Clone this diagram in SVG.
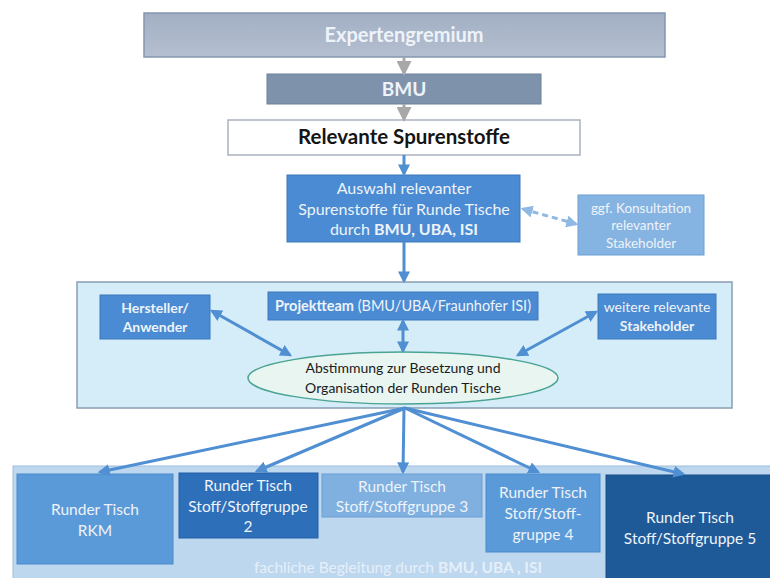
<svg xmlns="http://www.w3.org/2000/svg" width="770" height="578" viewBox="0 0 770 578">
  <defs>
    <linearGradient id="gradTop" x1="0" y1="0" x2="0" y2="1">
      <stop offset="0" stop-color="#a2afc3"/>
      <stop offset="1" stop-color="#b4bfd0"/>
    </linearGradient>
    <marker id="arrGray" viewBox="0 0 10 10" refX="8" refY="5" markerWidth="5" markerHeight="5" orient="auto-start-reverse">
      <path d="M0,0 L10,5 L0,10 z" fill="#a8a8a8"/>
    </marker>
    <marker id="arrBlue" viewBox="0 0 10 10" refX="8" refY="5" markerWidth="4" markerHeight="4" orient="auto-start-reverse">
      <path d="M0,0 L10,5 L0,10 z" fill="#4f8fd2"/>
    </marker>
    <marker id="arrLight" viewBox="0 0 10 10" refX="8" refY="5" markerWidth="4" markerHeight="4" orient="auto-start-reverse">
      <path d="M0,0 L10,5 L0,10 z" fill="#8fb8e2"/>
    </marker>
  </defs>
  <style>
    text { font-family: Lato, "Open Sans", "Liberation Sans", sans-serif; text-anchor: middle; }
    .wt { fill: #eef3f9; }
    .b { font-weight: bold; }
    .blue { fill: #4a8bd3; stroke: #3d78bb; stroke-width: 1; }
    .con { stroke: #4f8fd2; stroke-width: 3; fill: none; }
    .tt { font-size: 15.5px; }
  </style>

  <!-- top chain -->
  <g id="expertengremium">
    <rect x="144" y="13" width="521" height="44" fill="url(#gradTop)" stroke="#8496b0" stroke-width="1.5"/>
    <text x="404" y="42" class="wt b" font-size="20">Expertengremium</text>
  </g>
  <g id="bmu">
    <rect x="267" y="74" width="274" height="30" fill="#7f92ac" stroke="#6e819c" stroke-width="1"/>
    <text x="404" y="96" class="wt b" font-size="19">BMU</text>
  </g>
  <g id="relevante-spurenstoffe">
    <rect x="228" y="120" width="352" height="35" fill="#ffffff" stroke="#a9b2c0" stroke-width="1.5"/>
    <text x="404" y="144" class="b" font-size="20.5" fill="#151515">Relevante Spurenstoffe</text>
  </g>
  <g id="auswahl">
    <rect x="287" y="175" width="233" height="67" class="blue"/>
    <text x="404" y="194" class="wt" font-size="16">Auswahl relevanter</text>
    <text x="404" y="215" class="wt" font-size="16">Spurenstoffe für Runde Tische</text>
    <text x="404" y="235" class="wt" font-size="16">durch <tspan class="b">BMU, UBA, ISI</tspan></text>
  </g>
  <g id="konsultation">
    <rect x="578" y="195" width="126" height="60" fill="#86b4e2" stroke="#6d9fd3" stroke-width="1"/>
    <text x="641" y="213" class="wt" font-size="13.5">ggf. Konsultation</text>
    <text x="641" y="230" class="wt" font-size="13.5">relevanter</text>
    <text x="641" y="248" class="wt" font-size="13.5">Stakeholder</text>
  </g>

  <!-- coordination panel -->
  <g id="abstimmung-panel">
    <rect x="77" y="282" width="655" height="126" fill="#d5edf8" stroke="#8a9db3" stroke-width="1.5"/>
  </g>
  <g id="hersteller">
    <rect x="100" y="295" width="110" height="44" class="blue"/>
    <text x="155" y="313" class="wt b" font-size="14">Hersteller/</text>
    <text x="155" y="332" class="wt b" font-size="14">Anwender</text>
  </g>
  <g id="projektteam">
    <rect x="268" y="292" width="270" height="28" class="blue"/>
    <text x="403" y="311" class="wt" font-size="14.5"><tspan class="b">Projektteam</tspan> (BMU/UBA/Fraunhofer ISI)</text>
  </g>
  <g id="stakeholder">
    <rect x="598" y="294" width="118" height="45" class="blue"/>
    <text x="657" y="312" class="wt" font-size="14">weitere relevante</text>
    <text x="657" y="331" class="wt b" font-size="14">Stakeholder</text>
  </g>
  <g id="abstimmung">
    <ellipse cx="403" cy="378" rx="155" ry="26" fill="#e9f5f1" stroke="#4aa494" stroke-width="1.5"/>
    <text x="403" y="373" font-size="14" fill="#1b1b1b">Abstimmung zur Besetzung und</text>
    <text x="403" y="393" font-size="14" fill="#1b1b1b">Organisation der Runden Tische</text>
  </g>

  <!-- round tables -->
  <g id="begleitung">
    <rect x="13" y="466" width="770" height="120" fill="#bdd7ef" stroke="#9fbde0" stroke-width="1"/>
    <text x="398" y="573" font-size="15.5" fill="#e6eff9">fachliche Begleitung durch <tspan class="b">BMU, UBA , ISI</tspan></text>
  </g>
  <g id="tisch-rkm">
    <rect x="17" y="474" width="156" height="90" fill="#5b9ad8" stroke="#4c8acb" stroke-width="1"/>
    <text x="95" y="515" class="wt tt">Runder Tisch</text>
    <text x="95" y="536" class="wt tt">RKM</text>
  </g>
  <g id="tisch-2">
    <rect x="179" y="473" width="139" height="65" fill="#2e6fba" stroke="#255fa6" stroke-width="1"/>
    <text x="248" y="491" class="wt tt">Runder Tisch</text>
    <text x="248" y="512" class="wt tt">Stoff/Stoffgruppe</text>
    <text x="248" y="532" class="wt tt">2</text>
  </g>
  <g id="tisch-3">
    <rect x="322" y="474" width="160" height="43" fill="#7fb0e0" stroke="#6b9fd4" stroke-width="1"/>
    <text x="402" y="492" class="wt tt">Runder Tisch</text>
    <text x="402" y="512" class="wt tt">Stoff/Stoffgruppe 3</text>
  </g>
  <g id="tisch-4">
    <rect x="486" y="474" width="114" height="78" fill="#5b9ad8" stroke="#4c8acb" stroke-width="1"/>
    <text x="543" y="498" class="wt tt">Runder Tisch</text>
    <text x="543" y="519" class="wt tt">Stoff/Stoff-</text>
    <text x="543" y="540" class="wt tt">gruppe 4</text>
  </g>
  <g id="tisch-5">
    <rect x="606" y="475" width="170" height="110" fill="#1f5a98" stroke="#1a4f88" stroke-width="1"/>
    <text x="690" y="523" class="wt tt">Runder Tisch</text>
    <text x="690" y="544" class="wt tt">Stoff/Stoffgruppe 5</text>
  </g>

  <!-- connectors -->
  <g id="connectors">
    <line x1="404" y1="57" x2="404" y2="73" stroke="#a8a8a8" stroke-width="3" marker-end="url(#arrGray)"/>
    <line x1="404" y1="104" x2="404" y2="119" stroke="#a8a8a8" stroke-width="3" marker-end="url(#arrGray)"/>
    <line x1="404" y1="155" x2="404" y2="174" class="con" marker-end="url(#arrBlue)"/>
    <line x1="404" y1="242" x2="404" y2="281" class="con" marker-end="url(#arrBlue)"/>
    <line x1="523" y1="209" x2="576" y2="224" stroke="#8fb8e2" stroke-width="3" stroke-dasharray="6,4" marker-start="url(#arrLight)" marker-end="url(#arrLight)"/>
    <line x1="212" y1="311" x2="290" y2="355" class="con" marker-start="url(#arrBlue)" marker-end="url(#arrBlue)"/>
    <line x1="403" y1="321" x2="403" y2="351" class="con" marker-start="url(#arrBlue)" marker-end="url(#arrBlue)"/>
    <line x1="596" y1="312" x2="518" y2="355" class="con" marker-start="url(#arrBlue)" marker-end="url(#arrBlue)"/>
    <line x1="405" y1="408" x2="100" y2="472" class="con" marker-end="url(#arrBlue)"/>
    <line x1="405" y1="408" x2="257" y2="471" class="con" marker-end="url(#arrBlue)"/>
    <line x1="404" y1="408" x2="403" y2="472" class="con" marker-end="url(#arrBlue)"/>
    <line x1="405" y1="408" x2="538" y2="472" class="con" marker-end="url(#arrBlue)"/>
    <line x1="405" y1="408" x2="683" y2="474" class="con" marker-end="url(#arrBlue)"/>
  </g>
</svg>
